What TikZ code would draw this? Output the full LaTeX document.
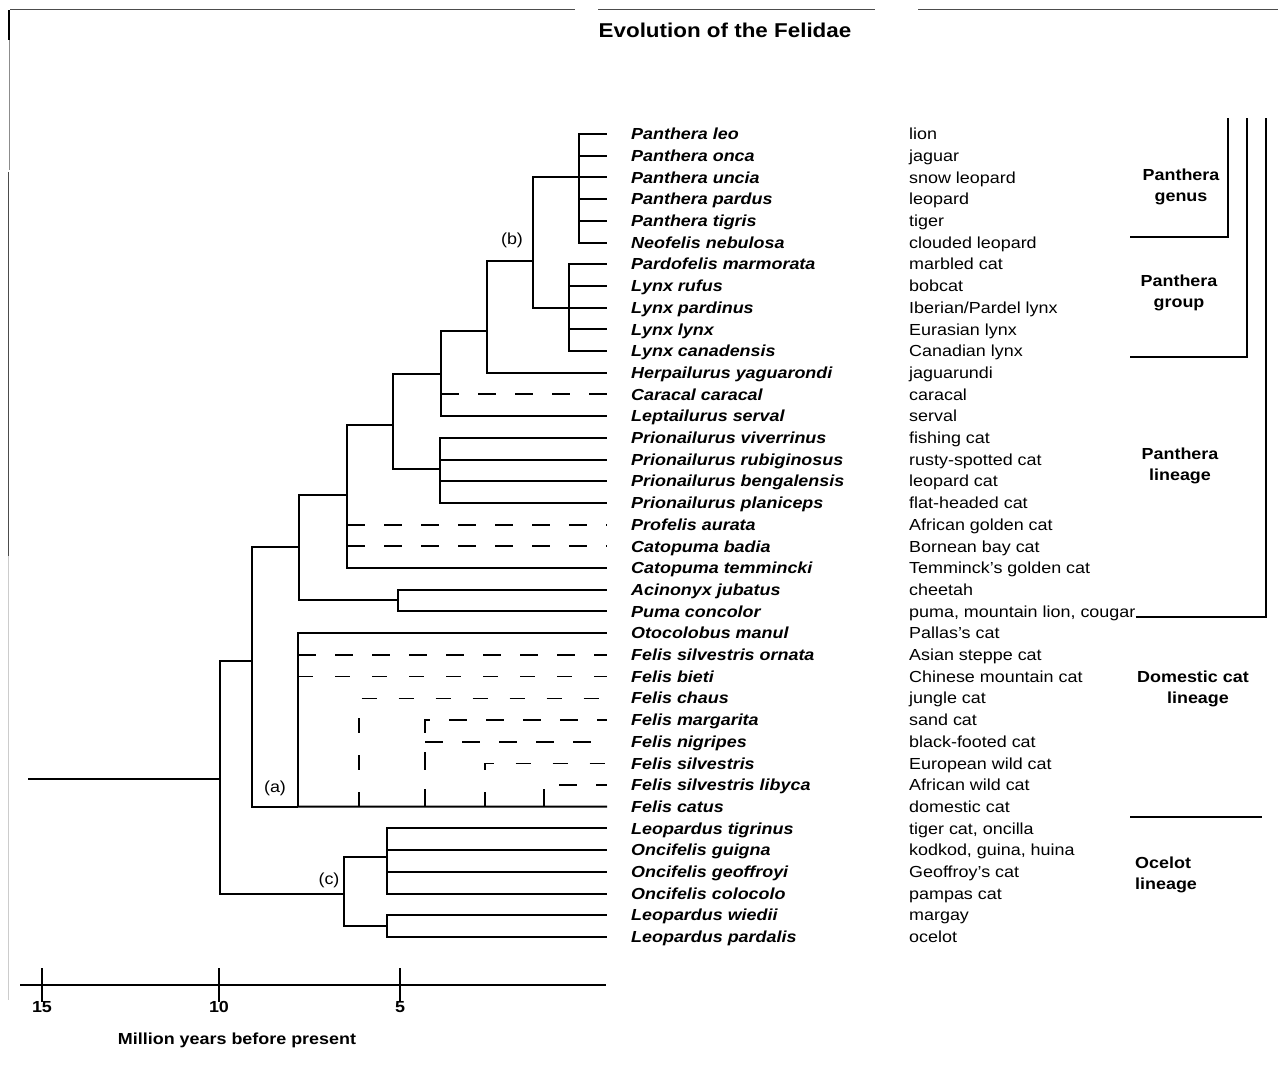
\documentclass[tikz,border=0pt]{standalone}
\usepackage{fontspec}
\setmainfont[FakeStretch=1.12]{Liberation Sans}
\tikzset{
  br/.style={line width=2pt, line join=miter},
  dsh/.style={line width=2.1pt, dash pattern=on 18pt off 19pt},
  dshthin/.style={line width=1.4pt, dash pattern=on 15pt off 22pt},
  sp/.style={anchor=west, inner xsep=24pt, inner ysep=0pt, text height=11.5pt, text depth=0pt, font=\fontsize{16}{19}\selectfont\bfseries\itshape},
  cn/.style={anchor=west, inner sep=0pt, text height=11.5pt, text depth=0pt, font=\fontsize{16}{19}\selectfont},
  grp/.style={align=center, inner sep=0pt, font=\fontsize{16}{21}\selectfont\bfseries},
  lab/.style={inner sep=0pt, font=\fontsize{16}{19}\selectfont},
  axlab/.style={inner sep=0pt, font=\fontsize{16}{19}\selectfont\bfseries},
}
\newcommand\felrow[3]{%
  \node[sp] (s#1) at (607,{134+(#1-1)*21.7}) {#2};
  \node[cn] (c#1) at (909,{134+(#1-1)*21.7}) {#3};}
\begin{document}
\begin{tikzpicture}[x=1pt,y=-1pt]
\useasboundingbox (0,0) rectangle (1278,1089);
% scan border
\draw[line width=1pt, black!70] (10,10) -- (575,10);
\draw[line width=1pt, black!70] (598,10) -- (875,10);
\draw[line width=1pt, black!70] (918,10) -- (1278,10);
\draw[line width=1.4pt] (9,10) -- (9,40);
\draw[line width=0.8pt, black!45] (9,40) -- (9,170);
\draw[line width=0.8pt, black!70] (8,172) -- (8,556);
\draw[line width=0.6pt, black!20] (8,556) -- (8,1000);
% title
\node[font=\fontsize{20}{24}\selectfont\bfseries] (title) at (725,30) {Evolution of the Felidae};
% species rows
\felrow{1}{Panthera leo}{lion}
\felrow{2}{Panthera onca}{jaguar}
\felrow{3}{Panthera uncia}{snow leopard}
\felrow{4}{Panthera pardus}{leopard}
\felrow{5}{Panthera tigris}{tiger}
\felrow{6}{Neofelis nebulosa}{clouded leopard}
\felrow{7}{Pardofelis marmorata}{marbled cat}
\felrow{8}{Lynx rufus}{bobcat}
\felrow{9}{Lynx pardinus}{Iberian/Pardel lynx}
\felrow{10}{Lynx lynx}{Eurasian lynx}
\felrow{11}{Lynx canadensis}{Canadian lynx}
\felrow{12}{Herpailurus yaguarondi}{jaguarundi}
\felrow{13}{Caracal caracal}{caracal}
\felrow{14}{Leptailurus serval}{serval}
\felrow{15}{Prionailurus viverrinus}{fishing cat}
\felrow{16}{Prionailurus rubiginosus}{rusty-spotted cat}
\felrow{17}{Prionailurus bengalensis}{leopard cat}
\felrow{18}{Prionailurus planiceps}{flat-headed cat}
\felrow{19}{Profelis aurata}{African golden cat}
\felrow{20}{Catopuma badia}{Bornean bay cat}
\felrow{21}{Catopuma temmincki}{Temminck's golden cat}
\felrow{22}{Acinonyx jubatus}{cheetah}
\felrow{23}{Puma concolor}{puma, mountain lion, cougar}
\felrow{24}{Otocolobus manul}{Pallas's cat}
\felrow{25}{Felis silvestris ornata}{Asian steppe cat}
\felrow{26}{Felis bieti}{Chinese mountain cat}
\felrow{27}{Felis chaus}{jungle cat}
\felrow{28}{Felis margarita}{sand cat}
\felrow{29}{Felis nigripes}{black-footed cat}
\felrow{30}{Felis silvestris}{European wild cat}
\felrow{31}{Felis silvestris libyca}{African wild cat}
\felrow{32}{Felis catus}{domestic cat}
\felrow{33}{Leopardus tigrinus}{tiger cat, oncilla}
\felrow{34}{Oncifelis guigna}{kodkod, guina, huina}
\felrow{35}{Oncifelis geoffroyi}{Geoffroy's cat}
\felrow{36}{Oncifelis colocolo}{pampas cat}
\felrow{37}{Leopardus wiedii}{margay}
\felrow{38}{Leopardus pardalis}{ocelot}
% internal nodes
\coordinate (root0) at (28,779);
\coordinate (R) at (220,779);
\coordinate (A) at (252,661);
\coordinate (B) at (299,547);
\coordinate (C) at (347,495);
\coordinate (D) at (393,425);
\coordinate (E) at (441,374);
\coordinate (F) at (487,331);
\coordinate (G) at (533,261);
\coordinate (Pg) at (579,177.4);
\coordinate (Lx) at (569,307.6);
\coordinate (Pr) at (440,469);
\coordinate (Ac) at (398,600);
\coordinate (Da) at (298,806.7);
\coordinate (Oc) at (344,894);
\coordinate (O1) at (387,857);
\coordinate (O2) at (387,926);
\coordinate (fc) at (359,806.7);
\coordinate (fm) at (425,806.7);
\coordinate (fs) at (485,806.7);
\coordinate (fl) at (544,806.7);
% solid branches
\draw[br] (root0) -- (R);
\draw[br] (R) |- (A);
\draw[br] (R) |- (Oc);
\draw[br] (A) |- (B);
\draw[br] (A) |- (Da);
\draw[br] (B) |- (C);
\draw[br] (B) |- (Ac);
\draw[br] (C) |- (D);
\draw[br] (C) |- (s21.west);
\draw[br] (D) |- (E);
\draw[br] (D) |- (Pr);
\draw[br] (E) |- (F);
\draw[br] (E) |- (s14.west);
\draw[br] (F) |- (G);
\draw[br] (F) |- (s12.west);
\draw[br] (G) |- (Pg);
\draw[br] (G) |- (Lx);
\foreach \k in {1,...,6} {\draw[br] (Pg) |- (s\k.west);}
\foreach \k in {7,...,11} {\draw[br] (Lx) |- (s\k.west);}
\foreach \k in {15,...,18} {\draw[br] (Pr) |- (s\k.west);}
\foreach \k in {22,23} {\draw[br] (Ac) |- (s\k.west);}
\draw[br] (Da) |- (s24.west);
\draw[br] (Da) -- (s32.west);
\draw[br] (Oc) |- (O1);
\draw[br] (Oc) |- (O2);
\foreach \k in {33,...,36} {\draw[br] (O1) |- (s\k.west);}
\foreach \k in {37,38} {\draw[br] (O2) |- (s\k.west);}
% dashed branches
\draw[dsh] (E |- s13.west) -- (s13.west);
\draw[dsh] (C |- s19.west) -- (s19.west);
\draw[dsh] (C |- s20.west) -- (s20.west);
\draw[dsh] (Da |- s25.west) -- (s25.west);
\draw[dshthin] (Da |- s26.west) -- (s26.west);
\draw[dshthin] (fc) |- (s27.west);
\draw[dsh] (fm) |- (s28.west);
\draw[dsh] (fm |- s29.west) -- (s29.west);
\draw[dshthin] (fs) |- (s30.west);
\draw[dsh] (fl) |- (s31.west);
% branch labels
\node[lab] (la) at (275,788) {(a)};
\node[lab] (lb) at (512,240) {(b)};
\node[lab] (lc) at (329,880) {(c)};
% group brackets
\coordinate (gtop1) at (1228,118);
\coordinate (gtop2) at (1247,118);
\coordinate (gtop3) at (1266,118);
\draw[br] (1130,237) -| (gtop1);
\draw[br] (1130,357) -| (gtop2);
\draw[br] (c23.south east) -| (gtop3);
\draw[br] (1130,817) -- (1262,817);
\node[grp] (gg) at (1181,187) {Panthera\\genus};
\node[grp] (gp) at (1179,293) {Panthera\\group};
\node[grp] (gl) at (1180,466) {Panthera\\lineage};
\node[grp] (gd) at (1193,689) {Domestic cat\\\ \ lineage};
\node[grp, align=left, anchor=west] (go) at (1135,875) {Ocelot\\lineage};
% time axis
\draw[line width=2pt] (20,985) -- (606,985);
\foreach \xx in {42,219,400} {\draw[line width=2pt] (\xx,968) -- (\xx,1002);}
\node[axlab] (t15) at (42,1007) {15};
\node[axlab] (t10) at (219,1007) {10};
\node[axlab] (t5) at (400,1007) {5};
\node[axlab] (axt) at (237,1040) {Million years before present};
\end{tikzpicture}
\end{document}
